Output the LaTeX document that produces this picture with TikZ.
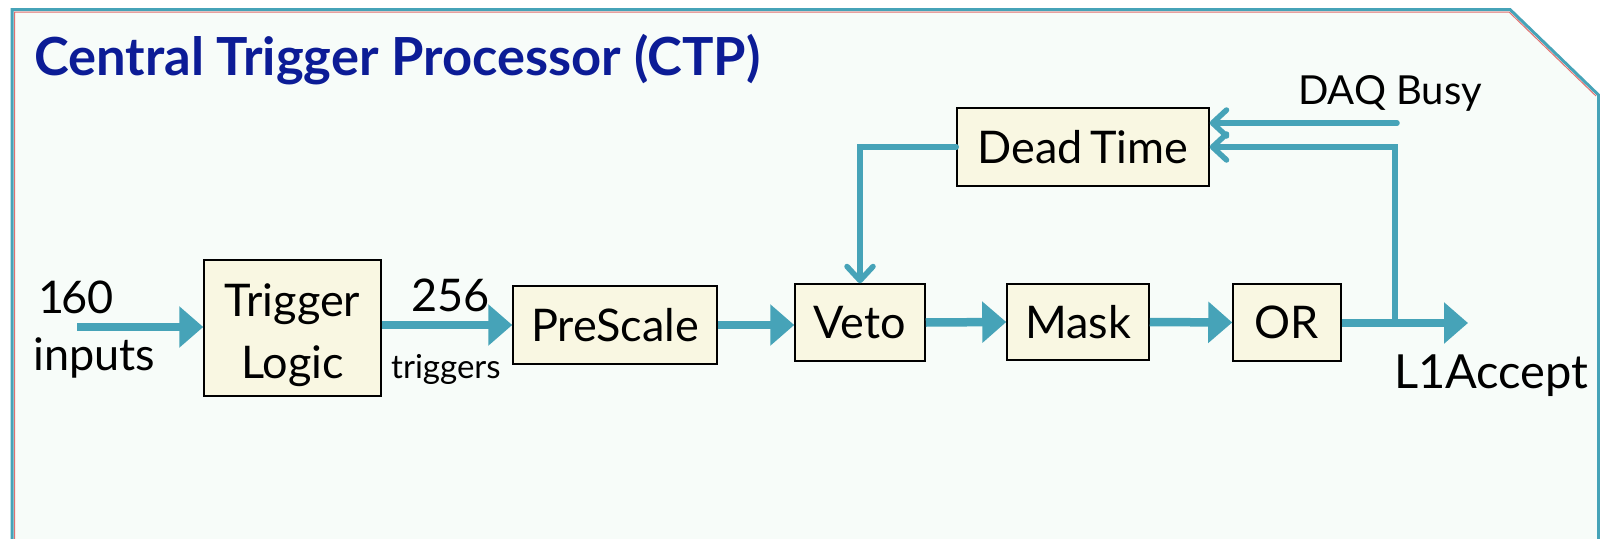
\documentclass[tikz,border=0pt]{standalone}
\usepackage{fontspec}
\setmainfont{Lato}
\usetikzlibrary{arrows.meta}
\definecolor{tealline}{RGB}{70,163,184}
\definecolor{boxfill}{RGB}{249,247,226}
\definecolor{panelbg}{RGB}{247,252,249}
\definecolor{titleblue}{RGB}{12,28,150}
\definecolor{redline}{RGB}{224,112,112}
\begin{document}
\begin{tikzpicture}[x=1pt,y=-1pt,
  blk/.style={draw=black, line width=1.5pt, fill=boxfill, inner sep=0pt,
    font=\fontsize{45}{62}\selectfont, align=center},
  lbl/.style={inner sep=0pt, anchor=base west, font=\fontsize{45}{54}\selectfont},
  flow/.style={draw=tealline, line width=8.5pt, -{Triangle[length=24pt,width=40pt]}},
  fb/.style={draw=tealline, line width=5.5pt, line cap=round,
    -{Straight Barb[length=14pt,width=26pt,round]}}]
\useasboundingbox (0,0) rectangle (1600,538);
\fill[white] (0,0) rectangle (1600,538);
% panel
\fill[panelbg] (12,540) -- (12,9) -- (1510,9) -- (1599,95) -- (1599,540) -- cycle;
\draw[tealline, line width=3pt] (12,540) -- (12,9.5) -- (1510,9.5) -- (1598.5,95) -- (1598.5,540);
\draw[redline, line width=1pt] (14.5,540) -- (14.5,12) -- (1509,12) -- (1596,96);
% title
\node[inner sep=0pt, anchor=base west, text=titleblue,
  font=\fontsize{52.5}{60}\selectfont\bfseries] (title) at (34,75) {Central Trigger Processor (CTP)};
% blocks
\node[blk, minimum width=177pt, minimum height=136pt] (tl) at (292.5,328) {\rule{0pt}{48pt}Trigger\\Logic};
\node[blk, minimum width=204pt, minimum height=78pt] (ps) at (615,325) {PreScale};
\node[blk, minimum width=130pt, minimum height=77pt] (veto) at (860,322.5) {Veto};
\node[blk, minimum width=142pt, minimum height=76pt] (mask) at (1078,322) {Mask};
\node[blk, minimum width=108pt, minimum height=77pt] (or) at (1287,322.5) {OR};
\node[blk, minimum width=252pt, minimum height=78pt] (dt) at (1083,147) {Dead\,Time};
% labels
\node[lbl] (n160) at (38,313) {1\kern-3pt60};
\node[lbl] (ninputs) at (33,370) {inputs};
\node[lbl] (n256) at (411,311) {256};
\node[lbl, font=\fontsize{33}{40}\selectfont] (ntrig) at (391,378) {triggers};
\node[lbl, font=\fontsize{40}{46}\selectfont] (ndaq) at (1298,104) {DAQ Busy};
\node[lbl, font=\fontsize{47}{54}\selectfont] (nl1) at (1394,388) {L1Accept};
% coordinates
\coordinate (in) at (77,327);
\coordinate (l1end) at (1468,323);
\coordinate (tap) at (1395,323);
\coordinate (fbc) at (1395,147);
\coordinate (daq) at (1397,123);
% main flow
\draw[flow] (in) -- (in -| tl.west);
\draw[flow] (tl.east |- ps.west) -- (ps.west);
\draw[flow] (ps.east) -- (ps.east -| veto.west);
\draw[flow] (veto.east) -- (mask.west);
\draw[flow] (mask.east) -- (or.west);
\draw[flow] (or.east |- l1end) -- (l1end);
% feedback
\draw[fb] (tap) -- (fbc) -- (fbc -| dt.east);
\draw[fb] (daq) -- (daq -| dt.east);
\draw[fb] (dt.west) -- (dt.west -| veto.north) -- (veto.north);
\end{tikzpicture}
\end{document}
